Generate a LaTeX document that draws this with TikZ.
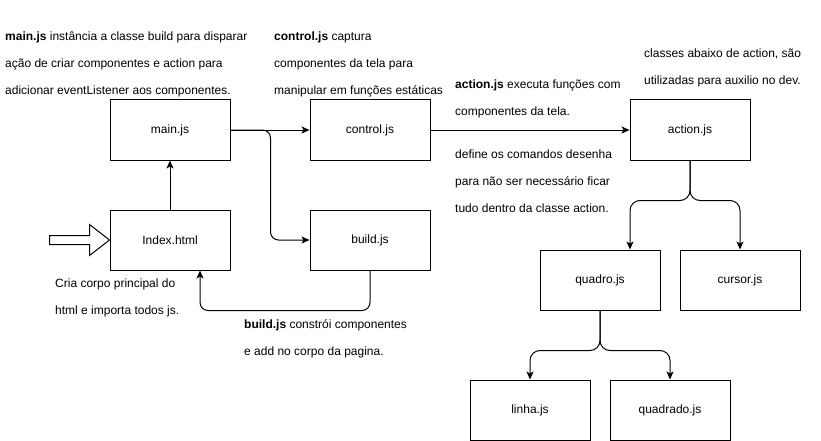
\documentclass[tikz,border=0pt]{standalone}
\usepackage{fontspec}
\setmainfont{Liberation Sans}
\usetikzlibrary{arrows.meta}

\tikzset{
  bloc/.style={draw, line width=1pt, minimum width=120pt, minimum height=60pt, inner sep=0pt},
  fleche/.style={line width=1pt, -{Stealth[length=8pt,width=7pt,inset=2pt]}},
  note/.style={anchor=base west, align=left, inner sep=0pt, font=\fontsize{12}{27}\selectfont}, % base = derniere ligne
}

\begin{document}
\begin{tikzpicture}[x=1pt,y=-1pt,font=\fontsize{12}{14}\selectfont] % 1 unite = 1 pixel
\useasboundingbox (0,0) rectangle (821,441);
% les blocs
\foreach \nom/\x/\y/\txt in {main/170/130/main.js, control/370/130/control.js, index/170/240/Index.html, build/370/240/build.js, action/690/130/action.js, quadro/600/280/quadro.js, cursor/740/280/cursor.js, linha/530/410/linha.js, quadrado/670/410/quadrado.js}{
  \node[bloc] (\nom) at (\x,\y) {\txt};}
% fleche d'entree
\draw[line width=1pt] ([shift={(-60,-4.5)}]index.west) -- ++(40,0) -- ++(0,-11) -- (index.west) -- ++(-20,15.5) -- ++(0,-11) -- ++(-40,0) -- cycle;
% les liens
\draw[fleche] (index) -- (main);
\draw[fleche] (main) -- (control);
\draw[fleche, rounded corners=8pt] (main.east) -- ++(40,0) |- (build.west);
\draw[fleche, rounded corners=8pt] (build.south) -- ++(0,40) -| ([xshift=30pt]index.south);
\draw[fleche] (control) -- (action);
\draw[fleche, rounded corners=10pt] (action.south) -- ++(0,40) -| ([xshift=30pt]quadro.north);
\draw[fleche, rounded corners=10pt] (action.south) -- ++(0,40) -| (cursor.north);
\draw[fleche, rounded corners=10pt] (quadro.south) -- ++(0,40) -| (linha.north);
\draw[fleche, rounded corners=10pt] (quadro.south) -- ++(0,40) -| (quadrado.north);
% les textes
\node[note] (notemain) at (5,95) {\textbf{main.js} instância a classe build para disparar\\ação de criar componentes e action para\\adicionar eventListener aos componentes.};
\node[note] (notecontrol) at (274,95) {\textbf{control.js} captura\\componentes da tela para\\manipular em funções estáticas};
\node[note] (noteaction) at (455,115) {\textbf{action.js} executa funções com\\componentes da tela.};
\node[note] (noteclasses) at (644,85) {classes abaixo de action, são\\utilizadas para auxilio no dev.};
\node[note] (notedesenha) at (455,212) {define os comandos desenha\\para não ser necessário ficar\\tudo dentro da classe action.};
\node[note] (noteindex) at (55,314) {Cria corpo principal do\\html e importa todos js.};
\node[note] (notebuild) at (244,355) {\textbf{build.js} constrói componentes\\e add no corpo da pagina.};
\end{tikzpicture}
\end{document}
